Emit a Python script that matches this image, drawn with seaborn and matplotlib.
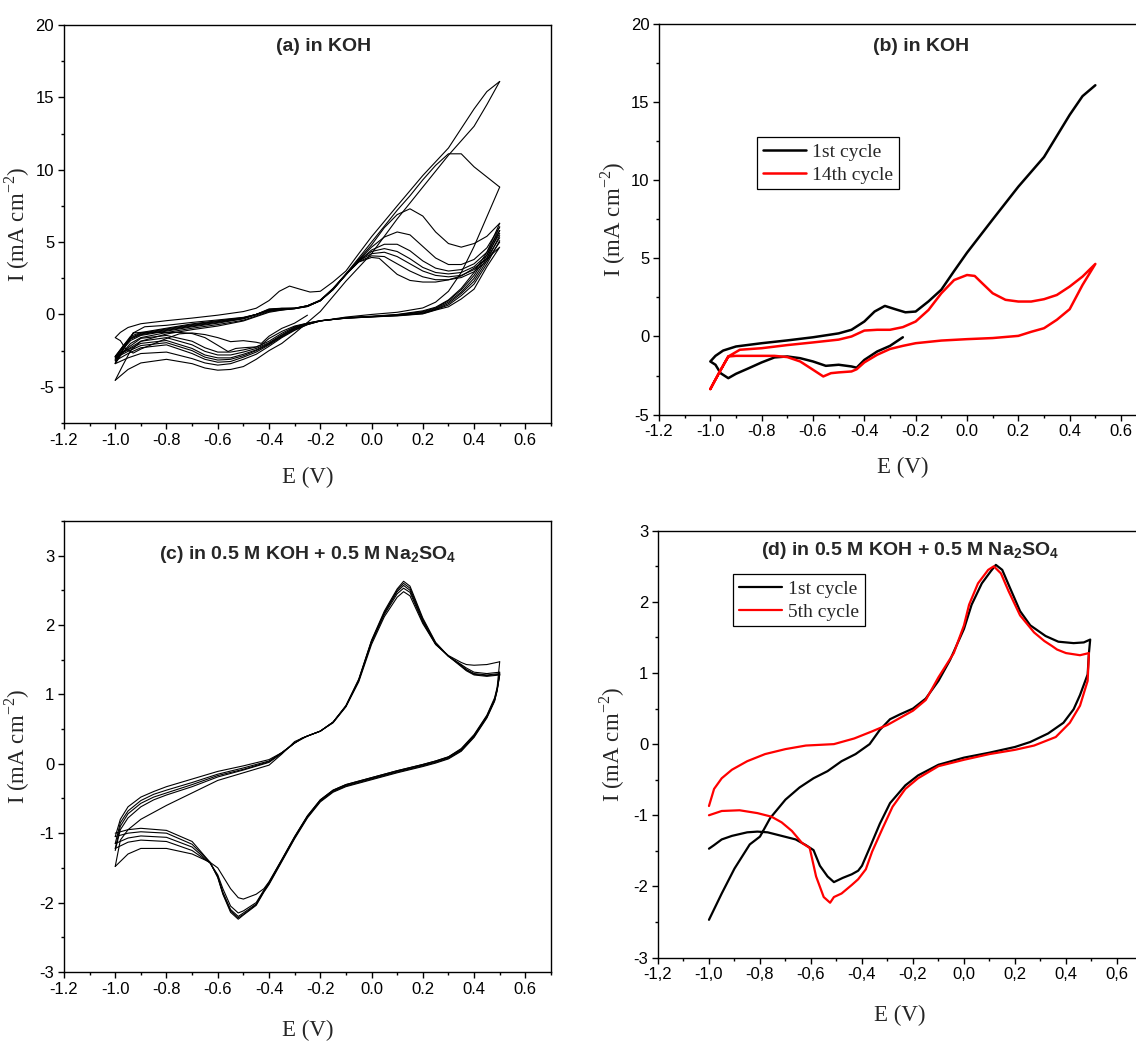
import matplotlib
matplotlib.use("Agg")
import matplotlib.pyplot as plt
import seaborn as sns
from matplotlib.ticker import MultipleLocator, FuncFormatter

# ---------------- KOH, cycle 1 (starts at -0.25 V, cathodic first) ----------------
koh_c1_E = [-0.25, -0.3, -0.35, -0.4, -0.43, -0.45, -0.5, -0.55, -0.6, -0.65, -0.7, -0.75,
            -0.8, -0.85, -0.9, -0.93, -0.96, -0.98, -1.0,
            -0.98, -0.95, -0.9, -0.8, -0.7, -0.6, -0.5, -0.45, -0.4, -0.36, -0.32, -0.28,
            -0.24, -0.2, -0.15, -0.1, -0.05, 0.0, 0.1, 0.2, 0.3, 0.4, 0.45, 0.5]
koh_c1_I = [-0.05, -0.6, -0.96, -1.5, -2.0, -1.92, -1.81, -1.88, -1.6, -1.39, -1.28, -1.34,
            -1.66, -2.03, -2.39, -2.67, -2.35, -1.81, -1.6,
            -1.24, -0.9, -0.64, -0.43, -0.25, -0.05, 0.2, 0.43, 0.96, 1.6, 1.96, 1.75,
            1.55, 1.6, 2.25, 3.0, 4.2, 5.37, 7.5, 9.6, 11.5, 14.2, 15.4, 16.1]

# ---------------- KOH, cycle 14 ----------------
koh_c14_E = [-1.0, -0.965, -0.93, -0.885, -0.8, -0.7, -0.6, -0.5, -0.45, -0.4, -0.35, -0.3,
             -0.25, -0.2, -0.15, -0.1, -0.05, 0.0, 0.03, 0.06, 0.1, 0.15, 0.2, 0.25, 0.3,
             0.35, 0.4, 0.45, 0.5,
             0.45, 0.4, 0.35, 0.3, 0.25, 0.2, 0.1, 0.0, -0.1, -0.2, -0.25, -0.3, -0.35, -0.4,
             -0.43, -0.45, -0.5, -0.53, -0.56, -0.6, -0.65, -0.7, -0.75, -0.8, -0.9, -0.93,
             -0.965, -1.0]
koh_c14_I = [-3.37, -2.3, -1.28, -0.85, -0.75, -0.55, -0.38, -0.2, 0.0, 0.38, 0.43, 0.43,
             0.6, 0.96, 1.7, 2.77, 3.62, 3.94, 3.88, 3.4, 2.77, 2.35, 2.24, 2.24, 2.39,
             2.66, 3.2, 3.84, 4.65,
             3.3, 1.75, 1.07, 0.53, 0.3, 0.04, -0.1, -0.17, -0.26, -0.43, -0.6, -0.8, -1.17,
             -1.66, -2.1, -2.24, -2.3, -2.35, -2.56, -2.13, -1.6, -1.32, -1.24, -1.24, -1.24,
             -1.28, -2.3, -3.37]

# ---------------- KOH, intermediate cycles (panel a) ----------------
koh_E_up = [-1.0, -0.97, -0.94, -0.9, -0.8, -0.7, -0.6, -0.5, -0.45, -0.4, -0.35, -0.3,
            -0.25, -0.2, -0.15, -0.1, -0.05, 0.0, 0.05, 0.1, 0.15, 0.2, 0.25, 0.3, 0.35,
            0.4, 0.45, 0.5]
koh_E_dn = [0.5, 0.45, 0.4, 0.35, 0.3, 0.25, 0.2, 0.1, 0.0, -0.1, -0.2, -0.25, -0.3, -0.35,
            -0.4, -0.45, -0.5, -0.55, -0.6, -0.65, -0.7, -0.8, -0.9, -0.95, -1.0]

koh_dn_c2 = [16.1, 14.5, 13.0, 12.0, 11.0, 9.9, 8.8, 6.6, 4.2, 2.3, 0.2, -0.55, -1.3, -2.0,
             -2.5, -3.1, -3.6, -3.8, -3.85, -3.7, -3.4, -3.1, -3.35, -3.8, -4.55]
koh_up_c2 = [-4.55, -3.5, -2.5, -1.85, -1.35, -1.05, -0.8, -0.45, -0.15, 0.15, 0.3, 0.4,
             0.6, 1.0, 1.8, 2.8, 3.9, 5.0, 6.1, 7.2, 8.2, 9.3, 10.3, 11.1, 11.1, 10.2, 9.5, 8.8]
koh_dn_c3 = [8.8, 6.75, 4.7, 2.9, 1.6, 0.85, 0.45, 0.15, 0.0, -0.18, -0.45, -0.7, -1.1, -1.6,
             -2.2, -2.75, -3.1, -3.4, -3.5, -3.35, -3.05, -2.6, -2.7, -3.0, -3.4]
koh_up_c3 = [-3.4, -2.6, -2.0, -1.6, -1.25, -0.95, -0.7, -0.4, -0.1, 0.2, 0.32, 0.4,
             0.55, 0.95, 1.8, 2.8, 3.8, 4.8, 6.0, 6.9, 7.3, 6.8, 5.7, 4.9, 4.65, 4.9, 5.4, 6.3]
koh_dn_c4 = [6.3, 4.3, 2.9, 1.8, 1.0, 0.5, 0.25, 0.0, -0.12, -0.22, -0.45, -0.7, -1.05, -1.55,
             -2.1, -2.6, -2.95, -3.25, -3.3, -3.1, -2.7, -2.1, -2.3, -2.7, -3.2]
koh_up_c4 = [-3.2, -2.4, -1.8, -1.45, -1.15, -0.85, -0.6, -0.3, 0.0, 0.25, 0.33, 0.4,
             0.55, 0.95, 1.75, 2.75, 3.75, 4.65, 5.35, 5.7, 5.5, 4.7, 3.9, 3.45, 3.45, 3.8, 4.6, 6.05]
koh_dn_c5 = [6.05, 4.1, 2.7, 1.7, 0.95, 0.45, 0.2, -0.02, -0.14, -0.23, -0.45, -0.68, -1.0, -1.5,
             -2.05, -2.5, -2.85, -3.1, -3.15, -2.95, -2.5, -1.95, -2.15, -2.55, -3.0]
koh_up_c5 = [-3.0, -2.3, -1.7, -1.4, -1.1, -0.8, -0.55, -0.28, 0.0, 0.28, 0.36, 0.42,
             0.57, 0.95, 1.75, 2.75, 3.7, 4.45, 4.85, 4.85, 4.4, 3.7, 3.2, 3.0, 3.1, 3.5, 4.3, 5.8]
koh_dn_c6 = [5.8, 3.9, 2.5, 1.55, 0.85, 0.4, 0.15, -0.04, -0.15, -0.24, -0.44, -0.65, -0.95, -1.45,
             -2.0, -2.45, -2.75, -3.0, -3.0, -2.8, -2.35, -1.8, -2.0, -2.45, -2.9]
koh_up_c6 = [-2.9, -2.2, -1.65, -1.35, -1.05, -0.75, -0.5, -0.26, 0.0, 0.3, 0.38, 0.42,
             0.58, 0.95, 1.75, 2.75, 3.7, 4.35, 4.55, 4.35, 3.85, 3.25, 2.9, 2.8, 2.9, 3.3, 4.1, 5.6]
koh_dn_c8 = [5.45, 3.7, 2.3, 1.45, 0.75, 0.35, 0.1, -0.06, -0.16, -0.25, -0.44, -0.62, -0.9, -1.4,
             -1.95, -2.35, -2.6, -2.8, -2.8, -2.55, -2.1, -1.6, -1.85, -2.4, -2.9]
koh_up_c8 = [-2.9, -2.2, -1.6, -1.3, -1.0, -0.7, -0.47, -0.24, 0.0, 0.32, 0.4, 0.43,
             0.6, 0.96, 1.75, 2.75, 3.7, 4.2, 4.3, 4.0, 3.5, 3.0, 2.7, 2.6, 2.7, 3.1, 3.9, 5.3]
koh_dn_c11 = [5.1, 3.5, 2.1, 1.3, 0.65, 0.33, 0.06, -0.08, -0.17, -0.26, -0.43, -0.6, -0.85, -1.3,
              -1.85, -2.25, -2.45, -2.6, -2.6, -2.3, -1.85, -1.45, -1.65, -2.3, -3.1]
koh_up_c11 = [-3.1, -2.2, -1.5, -1.25, -0.95, -0.65, -0.43, -0.22, 0.0, 0.35, 0.42, 0.43,
              0.6, 0.96, 1.72, 2.75, 3.65, 4.05, 4.0, 3.5, 3.0, 2.6, 2.4, 2.4, 2.55, 2.95, 3.7, 5.0]

# ---------------- KOH + Na2SO4, five cycles (panel c) ----------------
mix_E_up = [-1.0, -0.98, -0.95, -0.9, -0.85, -0.8, -0.7, -0.6, -0.5, -0.4, -0.35, -0.3,
            -0.27, -0.25, -0.2, -0.15, -0.1, -0.05, 0.0, 0.05, 0.1, 0.125, 0.15, 0.2, 0.25,
            0.3, 0.35, 0.37, 0.4, 0.45, 0.5]
mix_E_dn = [0.5, 0.49, 0.48, 0.45, 0.4, 0.35, 0.3, 0.25, 0.2, 0.1, 0.0, -0.1, -0.15, -0.2,
            -0.25, -0.3, -0.35, -0.4, -0.42, -0.45, -0.5, -0.52, -0.55, -0.58, -0.6, -0.63,
            -0.7, -0.8, -0.9, -0.95, -1.0]

mix_up_c1 = [-1.25, -0.95, -0.78, -0.62, -0.52, -0.45, -0.33, -0.19, -0.09, 0.02, 0.15, 0.3,
             0.36, 0.4, 0.47, 0.59, 0.82, 1.18, 1.72, 2.12, 2.4, 2.48, 2.42, 2.02, 1.72,
             1.56, 1.46, 1.43, 1.42, 1.43, 1.47]
mix_up_c2 = [-1.48, -1.1, -0.95, -0.8, -0.7, -0.6, -0.42, -0.24, -0.13, -0.02, 0.14, 0.32,
             0.37, 0.4, 0.47, 0.6, 0.83, 1.2, 1.75, 2.15, 2.45, 2.53, 2.47, 2.04, 1.72,
             1.55, 1.43, 1.38, 1.32, 1.3, 1.32]
mix_up_c3 = [-1.22, -0.9, -0.72, -0.57, -0.48, -0.42, -0.3, -0.17, -0.08, 0.03, 0.16, 0.3,
             0.37, 0.4, 0.47, 0.6, 0.83, 1.2, 1.76, 2.17, 2.48, 2.57, 2.5, 2.06, 1.73,
             1.55, 1.42, 1.36, 1.3, 1.28, 1.3]
mix_up_c4 = [-1.15, -0.85, -0.68, -0.53, -0.44, -0.38, -0.27, -0.15, -0.06, 0.04, 0.16, 0.3,
             0.37, 0.4, 0.47, 0.6, 0.83, 1.21, 1.77, 2.18, 2.5, 2.6, 2.53, 2.08, 1.74,
             1.55, 1.41, 1.35, 1.29, 1.27, 1.29]
mix_up_c5 = [-1.05, -0.8, -0.62, -0.48, -0.4, -0.33, -0.22, -0.11, -0.03, 0.06, 0.16, 0.3,
             0.37, 0.4, 0.47, 0.6, 0.84, 1.22, 1.78, 2.2, 2.52, 2.63, 2.56, 2.1, 1.75,
             1.55, 1.4, 1.34, 1.28, 1.26, 1.28]

mix_dn_c1 = [1.47, 1.1, 0.95, 0.7, 0.42, 0.22, 0.1, 0.04, -0.01, -0.1, -0.2, -0.3, -0.38,
             -0.52, -0.75, -1.05, -1.38, -1.7, -1.8, -1.88, -1.95, -1.93, -1.8, -1.62, -1.5,
             -1.42, -1.3, -1.22, -1.22, -1.3, -1.48]
mix_dn_c2 = [1.32, 1.08, 0.93, 0.69, 0.41, 0.21, 0.1, 0.04, -0.01, -0.1, -0.2, -0.3, -0.38,
             -0.52, -0.75, -1.05, -1.38, -1.71, -1.82, -2.0, -2.12, -2.15, -2.05, -1.8, -1.6,
             -1.43, -1.25, -1.12, -1.1, -1.13, -1.22]
mix_dn_c3 = [1.3, 1.07, 0.92, 0.68, 0.4, 0.2, 0.09, 0.03, -0.02, -0.11, -0.21, -0.31, -0.39,
             -0.53, -0.76, -1.06, -1.39, -1.72, -1.83, -2.02, -2.15, -2.2, -2.1, -1.85, -1.62,
             -1.43, -1.2, -1.06, -1.04, -1.07, -1.15]
mix_dn_c4 = [1.29, 1.06, 0.91, 0.67, 0.39, 0.19, 0.08, 0.02, -0.03, -0.12, -0.22, -0.32, -0.4,
             -0.54, -0.77, -1.07, -1.4, -1.73, -1.84, -2.03, -2.17, -2.22, -2.12, -1.87, -1.63,
             -1.42, -1.16, -1.0, -0.98, -1.0, -1.05]
mix_dn_c5 = [1.28, 1.05, 0.9, 0.66, 0.38, 0.18, 0.07, 0.01, -0.04, -0.13, -0.23, -0.33, -0.41,
             -0.55, -0.78, -1.08, -1.41, -1.74, -1.85, -2.04, -2.18, -2.24, -2.14, -1.88, -1.64,
             -1.42, -1.12, -0.96, -0.93, -0.95, -1.0]

# ---------------- KOH + Na2SO4, 1st and 5th cycle (panel d) ----------------
mix_first_E = [-1.0, -0.95, -0.9, -0.84, -0.8, -0.76, -0.7, -0.645, -0.59, -0.535, -0.48,
               -0.425, -0.37, -0.33, -0.29, -0.25, -0.2, -0.15, -0.1, -0.055, 0.0, 0.03,
               0.07, 0.105, 0.125, 0.15, 0.18, 0.22, 0.26, 0.32, 0.37, 0.43, 0.47, 0.495,
               0.49, 0.485, 0.455, 0.43, 0.39, 0.33, 0.26, 0.2, 0.1, 0.0, -0.1, -0.18, -0.23,
               -0.29, -0.33, -0.37, -0.4, -0.415, -0.44, -0.475, -0.51, -0.535, -0.565, -0.59,
               -0.62, -0.66, -0.715, -0.77, -0.81, -0.85, -0.91, -0.95, -0.98, -1.0]
mix_first_I = [-2.47, -2.1, -1.75, -1.41, -1.3, -1.04, -0.78, -0.61, -0.48, -0.38, -0.24,
               -0.14, 0.0, 0.2, 0.35, 0.42, 0.5, 0.64, 0.89, 1.18, 1.62, 1.96,
               2.26, 2.43, 2.52, 2.45, 2.2, 1.87, 1.67, 1.52, 1.44, 1.42, 1.43, 1.47,
               1.28, 0.98, 0.69, 0.49, 0.3, 0.15, 0.03, -0.04, -0.12, -0.19, -0.29, -0.44, -0.58,
               -0.83, -1.12, -1.46, -1.71, -1.78, -1.83, -1.88, -1.94, -1.86, -1.71, -1.49,
               -1.42, -1.34, -1.29, -1.24, -1.23, -1.24, -1.29, -1.34, -1.42, -1.47]
mix_fifth_E = [-1.0, -0.98, -0.95, -0.91, -0.85, -0.78, -0.7, -0.62, -0.51, -0.43, -0.36,
               -0.3, -0.25, -0.2, -0.15, -0.1, -0.04, 0.0, 0.02, 0.055, 0.095, 0.117, 0.145,
               0.175, 0.22, 0.275, 0.315, 0.345, 0.365, 0.4, 0.455, 0.49,
               0.485, 0.455, 0.415, 0.36, 0.275, 0.2, 0.1, 0.0, -0.1, -0.18, -0.23, -0.28,
               -0.32, -0.36, -0.385, -0.415, -0.44, -0.48, -0.51, -0.525, -0.55, -0.58,
               -0.605, -0.635, -0.675, -0.715, -0.755, -0.81, -0.88, -0.95, -1.0]
mix_fifth_I = [-0.87, -0.63, -0.48, -0.36, -0.24, -0.14, -0.07, -0.02, 0.0, 0.08, 0.18,
               0.27, 0.37, 0.47, 0.62, 0.94, 1.28, 1.67, 1.96, 2.26, 2.45, 2.5, 2.4,
               2.15, 1.81, 1.57, 1.45, 1.38, 1.33, 1.28, 1.25, 1.28,
               0.89, 0.54, 0.3, 0.1, -0.02, -0.08, -0.14, -0.22, -0.31, -0.48, -0.63, -0.88,
               -1.19, -1.51, -1.76, -1.9, -1.98, -2.1, -2.15, -2.23, -2.15, -1.86,
               -1.46, -1.39, -1.22, -1.1, -1.02, -0.97, -0.93, -0.94, -1.0]

SERIF = ["Liberation Serif", "DejaVu Serif"]

sns.set_style("ticks")
plt.rcParams["font.family"] = ["Liberation Sans", "DejaVu Sans"]
plt.rcParams["axes.unicode_minus"] = False
plt.rcParams["axes.linewidth"] = 1.0
plt.rcParams["lines.solid_joinstyle"] = "round"


def trace(ax, E, I, lw, color="black"):
    sns.lineplot(x=E, y=I, sort=False, estimator=None, color=color,
                 linewidth=lw, legend=False, ax=ax)
    return ax.lines[-1]


def tick_text(v, comma):
    if abs(v) < 1e-9:
        v = 0.0
    s = "%.1f" % v
    return s.replace(".", ",") if comma else s


def style_axis(ax, ylim, yminor, comma=False):
    ax.set_xlim(-1.2, 0.7)
    ax.set_ylim(*ylim)
    ax.xaxis.set_major_locator(MultipleLocator(0.2))
    ax.xaxis.set_minor_locator(MultipleLocator(0.1))
    ax.yaxis.set_major_locator(MultipleLocator(yminor * 2))
    ax.yaxis.set_minor_locator(MultipleLocator(yminor))
    ax.xaxis.set_major_formatter(FuncFormatter(lambda v, p: tick_text(v, comma)))
    ax.yaxis.set_major_formatter(FuncFormatter(lambda v, p: "%d" % round(v)))
    ax.tick_params(which="both", direction="out", top=False, right=False,
                   labelsize=12, width=1.0, colors="black")
    ax.tick_params(which="major", length=4, pad=3)
    ax.tick_params(which="minor", length=2.5)
    for s in ax.spines.values():
        s.set_visible(True)
        s.set_color("black")
        s.set_linewidth(1.0)
    ax.set_xlabel("E (V)", family=SERIF, fontsize=16.5)
    ax.set_ylabel(r"I (mA cm$^{\mathregular{-2}}$)", family=SERIF, fontsize=16.5)


def add_legend(ax, handles, labels, anchor):
    leg = ax.legend(handles=handles, labels=labels, loc="upper left", bbox_to_anchor=anchor,
                    prop={"family": SERIF, "size": 14}, frameon=True, fancybox=False,
                    edgecolor="black", framealpha=1, borderpad=0.3, labelspacing=0.28,
                    handlelength=2.2, handletextpad=0.35, borderaxespad=0)
    leg.get_frame().set_linewidth(0.9)


fig = plt.figure(figsize=(11.36, 10.46), dpi=100)
ax_a = fig.add_axes([0.0563, 0.5956, 0.4287, 0.3805])
ax_b = fig.add_axes([0.5801, 0.6037, 0.4293, 0.3730])
ax_c = fig.add_axes([0.0563, 0.0708, 0.4287, 0.4312])
ax_d = fig.add_axes([0.5792, 0.0846, 0.4265, 0.4080])

# (a) all cycles in KOH
thin = 0.8
trace(ax_a, koh_c1_E, koh_c1_I, thin)
koh_cycles = [(koh_dn_c2, koh_up_c2), (koh_dn_c3, koh_up_c3), (koh_dn_c4, koh_up_c4),
              (koh_dn_c5, koh_up_c5), (koh_dn_c6, koh_up_c6), (koh_dn_c8, koh_up_c8),
              (koh_dn_c11, koh_up_c11)]
for dn, up in koh_cycles:
    trace(ax_a, koh_E_dn, dn, thin)
    trace(ax_a, koh_E_up, up, thin)
trace(ax_a, koh_c14_E, koh_c14_I, thin)
style_axis(ax_a, (-7.5, 20), 2.5)
ax_a.text(0.534, 0.945, "(a) in KOH", transform=ax_a.transAxes, ha="center", va="center",
          fontsize=14, fontweight="bold")

# (b) first vs 14th cycle
h1 = trace(ax_b, koh_c1_E, koh_c1_I, 1.8, "black")
h14 = trace(ax_b, koh_c14_E, koh_c14_I, 1.8, "red")
style_axis(ax_b, (-5, 20), 2.5)
ax_b.text(0.537, 0.943, "(b) in KOH", transform=ax_b.transAxes, ha="center", va="center",
          fontsize=14, fontweight="bold")
add_legend(ax_b, [h1, h14], ["1st cycle", "14th cycle"], (0.201, 0.711))

# (c) five cycles in KOH + Na2SO4
mix_cycles = [(mix_up_c1, mix_dn_c1), (mix_up_c2, mix_dn_c2), (mix_up_c3, mix_dn_c3),
              (mix_up_c4, mix_dn_c4), (mix_up_c5, mix_dn_c5)]
for up, dn in mix_cycles:
    trace(ax_c, mix_E_up, up, thin)
    trace(ax_c, mix_E_dn, dn, thin)
style_axis(ax_c, (-3, 3.5), 0.5)
ax_c.text(0.501, 0.925, r"(c) in 0.5 M KOH + 0.5 M Na$_{\mathregular{2}}$SO$_{\mathregular{4}}$",
          transform=ax_c.transAxes, ha="center", va="center", fontsize=14, fontweight="bold")

# (d) first vs 5th cycle
g1 = trace(ax_d, mix_first_E, mix_first_I, 1.6, "black")
g5 = trace(ax_d, mix_fifth_E, mix_fifth_I, 1.6, "red")
style_axis(ax_d, (-3, 3), 0.5, comma=True)
ax_d.text(0.52, 0.954, r"(d) in 0.5 M KOH + 0.5 M Na$_{\mathregular{2}}$SO$_{\mathregular{4}}$",
          transform=ax_d.transAxes, ha="center", va="center", fontsize=14, fontweight="bold")
add_legend(ax_d, [g1, g5], ["1st cycle", "5th cycle"], (0.155, 0.8985))

# label anchors: ylabel anchor is its right edge, xlabel anchor is its top edge
for ax, xy in [(ax_a, (-0.066, -0.11)), (ax_b, (-0.064, -0.109)),
               (ax_c, (-0.066, -0.106)), (ax_d, (-0.064, -0.111))]:
    ax.yaxis.set_label_coords(xy[0], 0.5)
    ax.xaxis.set_label_coords(0.5, xy[1])

fig.savefig("out.png", dpi=100)
